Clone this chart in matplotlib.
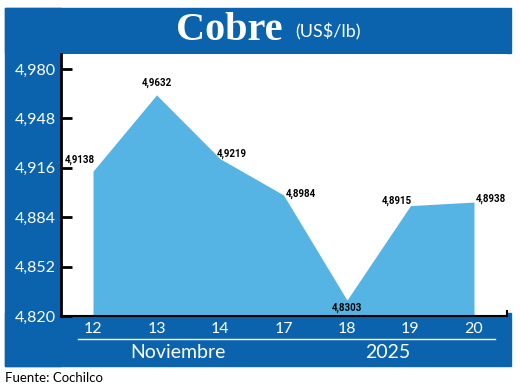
import matplotlib.pyplot as plt
from matplotlib.patches import Rectangle

days = ["12", "13", "14", "17", "18", "19", "20"]
precio = [4.9138, 4.9632, 4.9219, 4.8984, 4.8303, 4.8915, 4.8938]
yticks = [4.820, 4.852, 4.884, 4.916, 4.948, 4.980]
etiquetas = ["4,9138", "4,9632", "4,9219", "4,8984", "4,8303", "4,8915", "4,8938"]

# label offsets in pixels relative to each point, and alignment
offs = [(-13, 11, "center"), (0, 12, "center"), (-3, 5, "left"), (2, 1, "left"),
        (0, -8, "center"), (1, 5, "right"), (2, 3, "left")]

AZUL = "#0b63ad"
CELESTE = "#55b4e3"
W, H = 520, 388

fig = plt.figure(figsize=(5.2, 3.88), dpi=100)

def px(x, y, w, h):
    # pixel box (top-left origin) -> figure fraction rect
    return (x / W, 1 - (y + h) / H, w / W, h / H)

# blue frame: top band, left column, bottom band
for (x, y, w, h) in [(5, 8, 506, 45), (5, 8, 56, 358), (5, 313, 506, 53)]:
    x0, y0, ww, hh = px(x, y, w, h)
    fig.patches.append(Rectangle((x0, y0), ww, hh, transform=fig.transFigure,
                                 color=AZUL, zorder=-5))

ax = fig.add_axes([61 / W, 1 - 316 / H, 446 / W, 262 / H])
ax.set_zorder(2)
ax.set_facecolor("white")
xs = list(range(len(days)))
ax.fill_between(xs, precio, 4.820, color=CELESTE, lw=0, zorder=2)
ax.set_xlim(-0.504, 6.52)
ax.set_ylim(4.820, 4.9897)

ax.set_yticks(yticks)
ax.set_yticklabels([f"{v:.3f}".replace(".", ",") for v in yticks])
ax.set_xticks(xs)
ax.set_xticklabels(days)
ax.tick_params(axis="y", direction="in", length=8, width=2, color="black",
               labelcolor="white", labelsize=11.5, pad=4)
ax.tick_params(axis="x", length=0, labelcolor="white", labelsize=11.5, pad=4)
for lab in ax.get_xticklabels() + ax.get_yticklabels():
    lab.set_family("Lato")
ax.spines["top"].set_visible(False)
ax.spines["right"].set_visible(False)
ax.spines["left"].set_linewidth(2)
ax.spines["bottom"].set_linewidth(1.5)
ax.spines["left"].set_zorder(5)
# small upturned end on the x axis
ax.plot([1, 1], [0, 0.02], transform=ax.transAxes, color="black", lw=1.5,
        clip_on=False, zorder=5)

for i in xs:
    dx, dy, ha = offs[i]
    ax.annotate(etiquetas[i], (i, precio[i]), xytext=(dx * 0.72, dy * 0.72),
                textcoords="offset points", ha=ha, va="center", fontsize=7,
                fontweight="bold", family="Roboto", color="black", zorder=6)

# line under the day labels and the month/year texts
fig.add_artist(plt.Line2D([78 / W, 495 / W], [1 - 339 / H] * 2, color="white", lw=1))
fig.text(178 / W, 1 - 352 / H, "Noviembre", color="white", fontsize=14,
         family="Lato", ha="center", va="center")
fig.text(388 / W, 1 - 352 / H, "2025", color="white", fontsize=14,
         family="Lato", ha="center", va="center")

fig.text(229 / W, 1 - 30 / H, "Cobre", color="white", fontsize=29,
         fontweight="bold", family="Liberation Serif", ha="center", va="center")
fig.text(295 / W, 1 - 32 / H, "(US$/lb)", color="white", fontsize=13,
         family="Lato", ha="left", va="center")
fig.text(5 / W, 1 - 378 / H, "Fuente: Cochilco", color="black", fontsize=9.5,
         family="Lato", ha="left", va="center")

fig.savefig("out.png", dpi=100)
